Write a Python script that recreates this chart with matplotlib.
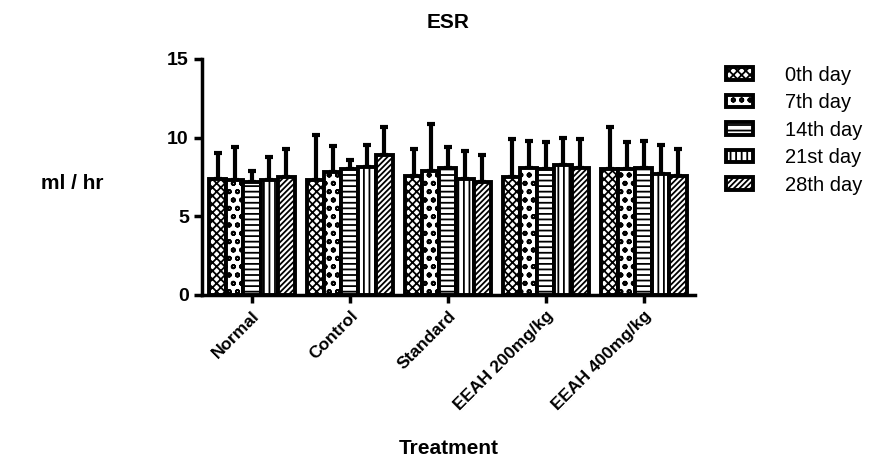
import matplotlib.pyplot as plt
import numpy as np

plt.rcParams['font.family'] = ['Liberation Sans', 'DejaVu Sans']
plt.rcParams['hatch.linewidth'] = 1.3

groups = ['Normal', 'Control', 'Standard', 'EEAH 200mg/kg', 'EEAH 400mg/kg']
days = ['0th day', '7th day', '14th day', '21st day', '28th day']

# mean ESR per group, one list per day
day0 = [7.4, 7.3, 7.55, 7.5, 8.0]
day7 = [7.3, 7.8, 7.9, 8.05, 8.0]
day14 = [7.15, 8.0, 8.05, 8.0, 8.05]
day21 = [7.3, 8.15, 7.4, 8.25, 7.7]
day28 = [7.5, 8.9, 7.2, 8.05, 7.55]

# upper error (SD)
sd0 = [1.6, 2.9, 1.7, 2.4, 2.7]
sd7 = [2.1, 1.65, 2.95, 1.75, 1.7]
sd14 = [0.75, 0.6, 1.35, 1.7, 1.75]
sd21 = [1.5, 1.4, 1.75, 1.75, 1.85]
sd28 = [1.8, 1.75, 1.7, 1.85, 1.75]

means = [day0, day7, day14, day21, day28]
sds = [sd0, sd7, sd14, sd21, sd28]
hatches = ['xxxx', 'oo', '---', '|||', '//////']

fig = plt.figure(figsize=(8.88, 4.62), dpi=100)
ax = fig.add_axes([0.2275, 0.3615, 0.555, 0.5108])

x = np.arange(len(groups))
w = 0.174
handles = []
for i in range(5):
    pos = x + (i - 2) * w
    b = ax.bar(pos, means[i], w, color='white', edgecolor='black',
               linewidth=2.8, hatch=hatches[i], label=days[i], zorder=2)
    ax.errorbar(pos, means[i], yerr=[np.zeros(5), sds[i]], fmt='none',
                ecolor='black', elinewidth=3, capsize=3, capthick=3,
                zorder=1)
    handles.append(b)

ax.set_xlim(-0.51, 4.52)
ax.set_ylim(0, 15)
ax.set_yticks([0, 5, 10, 15])
ax.set_xticks(x)
ax.set_xticklabels(groups, rotation=45, ha='right', rotation_mode='anchor',
                   fontsize=12.5, fontweight='bold')
for lab in ax.get_yticklabels():
    lab.set_fontweight('bold')
    lab.set_fontsize(14)
ax.spines['top'].set_visible(False)
ax.spines['right'].set_visible(False)
ax.spines['left'].set_linewidth(2.5)
ax.spines['bottom'].set_linewidth(2.5)
ax.tick_params(axis='both', width=2.5, length=6)

ax.set_title('ESR', fontsize=15, fontweight='bold', pad=22)
ax.set_xlabel('Treatment', fontsize=15, fontweight='bold', labelpad=18.5)
fig.text(0.081, 0.603, 'ml / hr', fontsize=15, fontweight='bold',
         ha='center', va='center')

fig.legend(handles, days, loc='upper left', bbox_to_anchor=(0.797, 0.897),
           frameon=False, fontsize=14.5, handlelength=1.35, handleheight=0.6,
           labelspacing=0.42, handletextpad=1.6)

fig.savefig('out.png', dpi=100)
